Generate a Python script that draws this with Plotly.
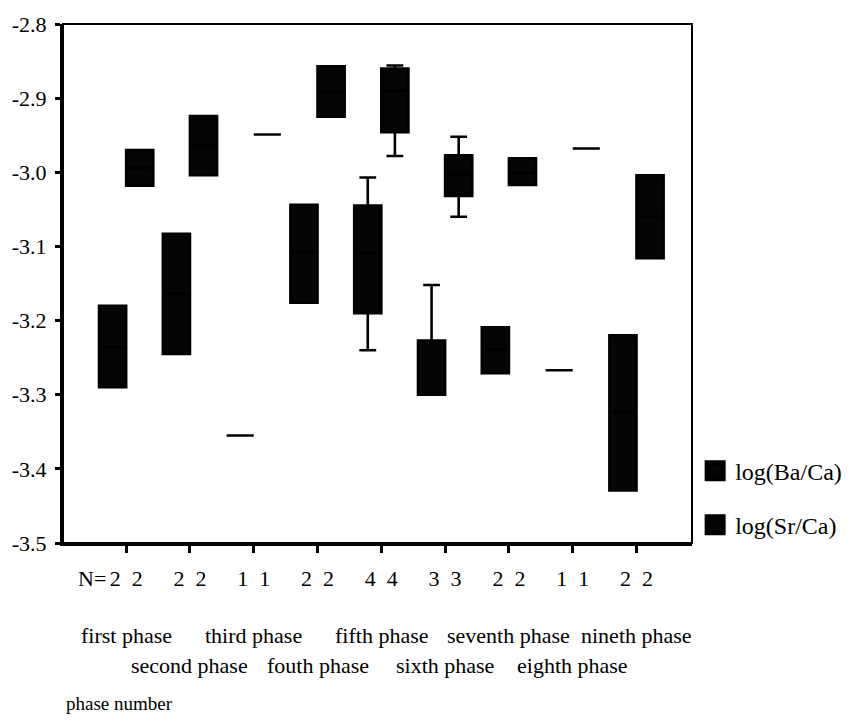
import plotly.graph_objects as go

# ---------------- data ----------------
phases = ["first phase", "second phase", "third phase", "fouth phase", "fifth phase",
          "sixth phase", "seventh phase", "eighth phase", "nineth phase"]
n_counts = [2, 2, 1, 2, 4, 3, 2, 1, 2]

# log(Ba/Ca) box statistics
ba_q1 = [-3.290, -3.245, -3.355, -3.176, -3.190, -3.300, -3.271, -3.267, -3.429]
ba_median = [-3.236, -3.164, -3.355, -3.108, -3.109, -3.300, -3.239, -3.267, -3.324]
ba_q3 = [-3.180, -3.083, -3.355, -3.044, -3.045, -3.227, -3.209, -3.267, -3.220]
ba_low = [-3.290, -3.245, -3.355, -3.176, -3.240, -3.300, -3.271, -3.267, -3.429]
ba_high = [-3.180, -3.083, -3.355, -3.044, -3.007, -3.152, -3.209, -3.267, -3.220]

# log(Sr/Ca) box statistics
sr_q1 = [-3.018, -3.004, -2.949, -2.925, -2.946, -3.032, -3.017, -2.968, -3.116]
sr_median = [-2.994, -2.964, -2.949, -2.891, -2.890, -3.003, -3.001, -2.968, -3.060]
sr_q3 = [-2.970, -2.924, -2.949, -2.857, -2.860, -2.977, -2.981, -2.968, -3.004]
sr_low = [-3.018, -3.004, -2.949, -2.925, -2.978, -3.060, -3.017, -2.968, -3.116]
sr_high = [-2.970, -2.924, -2.949, -2.857, -2.856, -2.952, -2.981, -2.968, -3.004]

y_ticks = [-3.5, -3.4, -3.3, -3.2, -3.1, -3.0, -2.9, -2.8]
series_names = ["log(Ba/Ca)", "log(Sr/Ca)"]

FONT = "Liberation Serif, Times New Roman, serif"
BOXFILL = "#050505"

fig = go.Figure()
fig.add_trace(go.Box(
    name=series_names[0], x=phases, q1=ba_q1, median=ba_median, q3=ba_q3,
    lowerfence=ba_low, upperfence=ba_high, boxpoints=False,
    fillcolor=BOXFILL, line=dict(color="black", width=2.6), whiskerwidth=0.62,
    legendgroup="ba", showlegend=False))
fig.add_trace(go.Box(
    name=series_names[1], x=phases, q1=sr_q1, median=sr_median, q3=sr_q3,
    lowerfence=sr_low, upperfence=sr_high, boxpoints=False,
    fillcolor=BOXFILL, line=dict(color="black", width=2.6), whiskerwidth=0.62,
    legendgroup="sr", showlegend=False))

# legend entries (large square swatches like the original)
for name, grp in zip(series_names, ["ba", "sr"]):
    fig.add_trace(go.Scatter(
        name=name, x=[None], y=[None], mode="markers", legendgroup=grp,
        marker=dict(symbol="square", size=16, color=BOXFILL,
                    line=dict(color="black", width=5)),
        showlegend=True, hoverinfo="skip"))

tick_text = ["\u00a0\u00a0".join([str(n), str(n)]) for n in n_counts]
y_text = [f"{v:.1f}" for v in y_ticks]

annotations = [dict(text="N=", x=phases[0], xref="x", xanchor="right", xshift=-18,
                    y=-0.0692, yref="paper", yanchor="middle", showarrow=False,
                    font=dict(family=FONT, size=22, color="black"))]
for i, p in enumerate(phases):
    annotations.append(dict(
        text=p, x=p, xref="x", xanchor="center",
        y=-0.179 if i % 2 == 0 else -0.236, yref="paper", yanchor="middle",
        showarrow=False, font=dict(family=FONT, size=22, color="black")))
annotations.append(dict(text="phase number", x=0.0, xref="paper", xanchor="left",
                        xshift=1,
                        y=-0.310, yref="paper", yanchor="middle", showarrow=False,
                        font=dict(family=FONT, size=19, color="black")))

fig.update_layout(
    width=859, height=724,
    margin=dict(l=63, r=166, t=18, b=181),
    paper_bgcolor="white", plot_bgcolor="white",
    boxmode="group", boxgap=0.15, boxgroupgap=0.0,
    font=dict(family=FONT, size=22, color="black"),
    showlegend=True,
    legend=dict(x=1.005, y=0.182, xanchor="left", yanchor="top",
                traceorder="grouped", tracegroupgap=20, itemsizing="trace",
                font=dict(family=FONT, size=24, color="black"),
                bgcolor="rgba(0,0,0,0)"),
    annotations=annotations,
    xaxis=dict(type="category", range=[-0.99, 8.87],
               tickmode="array", tickvals=phases, ticktext=tick_text,
               ticks="outside", ticklen=7, tickwidth=3, tickcolor="black",
               ticklabelstandoff=7,
               showline=True, linecolor="black", linewidth=3, mirror=False,
               showgrid=False, zeroline=False,
               tickfont=dict(family=FONT, size=22, color="black")),
    yaxis=dict(range=[-3.5, -2.8], tickmode="array", tickvals=y_ticks,
               ticktext=y_text, ticks="outside", ticklen=5, tickwidth=3,
               tickcolor="black", ticklabelstandoff=4,
               showline=True, linecolor="black", linewidth=3, mirror=False,
               showgrid=False, zeroline=False,
               tickfont=dict(family=FONT, size=22, color="black")),
    shapes=[dict(type="rect", xref="paper", yref="paper", x0=0, x1=1, y0=0, y1=1,
                 line=dict(color="black", width=2), fillcolor="rgba(0,0,0,0)",
                 layer="above")],
)

fig.write_html("out.html", include_plotlyjs=True,
               config={"displayModeBar": False},
               post_script="document.body.style.margin='0';")
